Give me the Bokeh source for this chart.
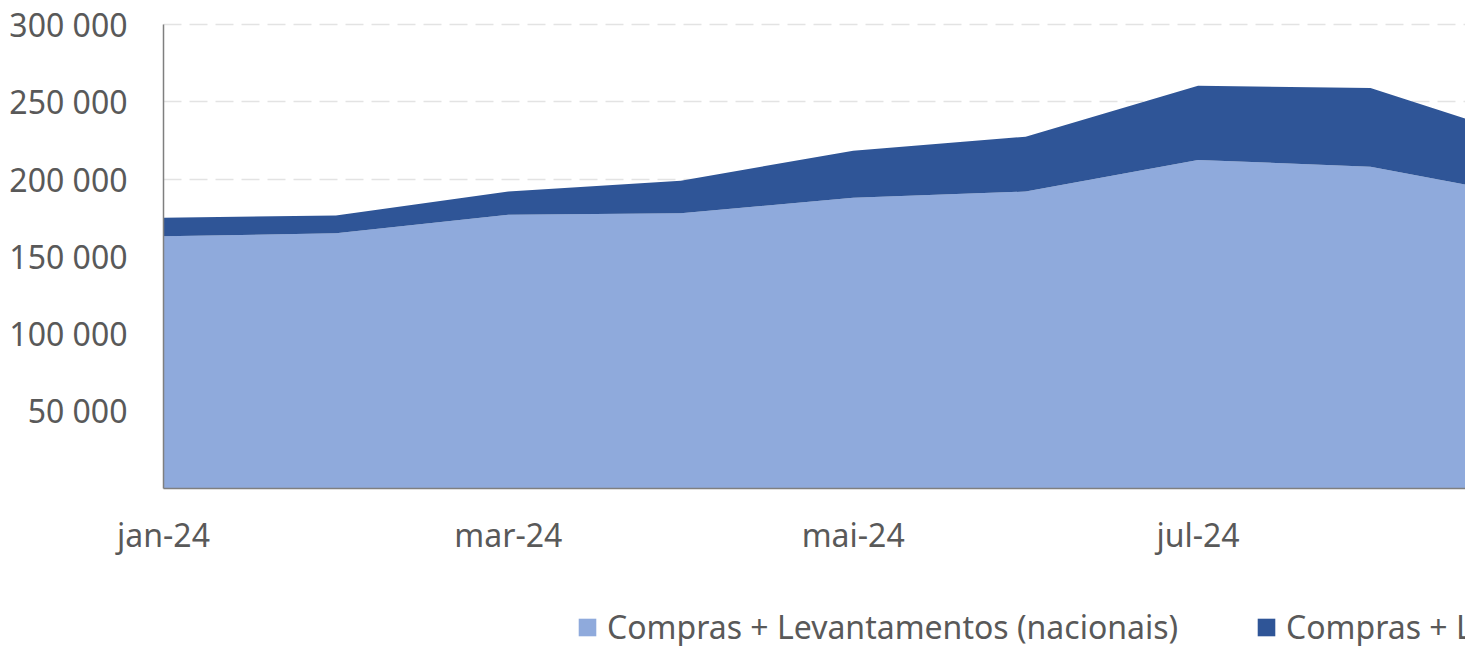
from bokeh.plotting import figure
from bokeh.models import (Range1d, FixedTicker, Legend, LegendItem, ColumnDataSource,
                          LinearAxis, Grid)
from bokeh.embed import file_html
from bokeh.resources import INLINE

months = ["jan-24", "fev-24", "mar-24", "abr-24", "mai-24", "jun-24", "jul-24", "ago-24", "set-24"]
nacionais = [163000, 165000, 177000, 178000, 188000, 192000, 212500, 208000, 187000]
internacionais = [12000, 11500, 15000, 21000, 30500, 35500, 48000, 51000, 36000]
series_names = ["Compras + Levantamentos (nacionais)", "Compras + Levantamentos (internacionais)"]
y_ticks = [50000, 100000, 150000, 200000, 250000, 300000]

idx = list(range(len(months)))
total = [a + b for a, b in zip(nacionais, internacionais)]
src = ColumnDataSource(dict(x=idx, zero=[0] * len(idx), nac=nacionais, tot=total))

FONT = "Noto Sans"
GREY = "#595959"
LIGHT = "#8FAADC"
DARK = "#2F5597"
X_END = 7.551

p = figure(width=1465, height=646, output_backend="svg", toolbar_location=None,
           x_range=Range1d(-0.9453, X_END), y_range=Range1d(-102650, 315730),
           x_axis_location=None, y_axis_location=None,
           min_border_left=0, min_border_right=0, min_border_top=0, min_border_bottom=0)
p.outline_line_color = None
p.grid.visible = False

grid = Grid(dimension=1, ticker=FixedTicker(ticks=y_ticks), cross_bounds=(0, X_END),
            grid_line_color="#E3E3E3", grid_line_dash="18 8", grid_line_width=1.5)
p.add_layout(grid)

r1 = p.varea(x="x", y1="zero", y2="nac", source=src, fill_color=LIGHT)
r2 = p.varea(x="x", y1="nac", y2="tot", source=src, fill_color=DARK)

xaxis = LinearAxis(fixed_location=0, bounds=(0, X_END), ticker=FixedTicker(ticks=idx[::2]),
                   major_label_overrides={i: months[i] for i in idx})
yaxis = LinearAxis(fixed_location=0, bounds=(0, 300000), ticker=FixedTicker(ticks=y_ticks),
                   major_label_overrides={t: f"{t:,}".replace(",", " ") for t in y_ticks})
p.add_layout(xaxis, "below")
p.add_layout(yaxis, "left")

for ax in (xaxis, yaxis):
    ax.major_tick_line_color = None
    ax.minor_tick_line_color = None
    ax.axis_line_color = "#7F7F7F"
    ax.axis_line_width = 1.5
    ax.major_label_text_font = FONT
    ax.major_label_text_font_size = "32px"
    ax.major_label_text_color = GREY
yaxis.major_label_standoff = 30
xaxis.major_label_standoff = 19

for r, name, xloc in ((r1, series_names[0], 576), (r2, series_names[1], 1255)):
    lg = Legend(items=[LegendItem(label=name, renderers=[r])], location=(xloc, -2),
                orientation="horizontal", padding=0, margin=0, border_line_color=None,
                background_fill_alpha=0, label_text_font=FONT, label_text_font_size="32px",
                label_text_color=GREY, glyph_width=22, glyph_height=22, label_standoff=9)
    p.add_layout(lg, "center")

open("out.html", "w").write(file_html(p, INLINE))
